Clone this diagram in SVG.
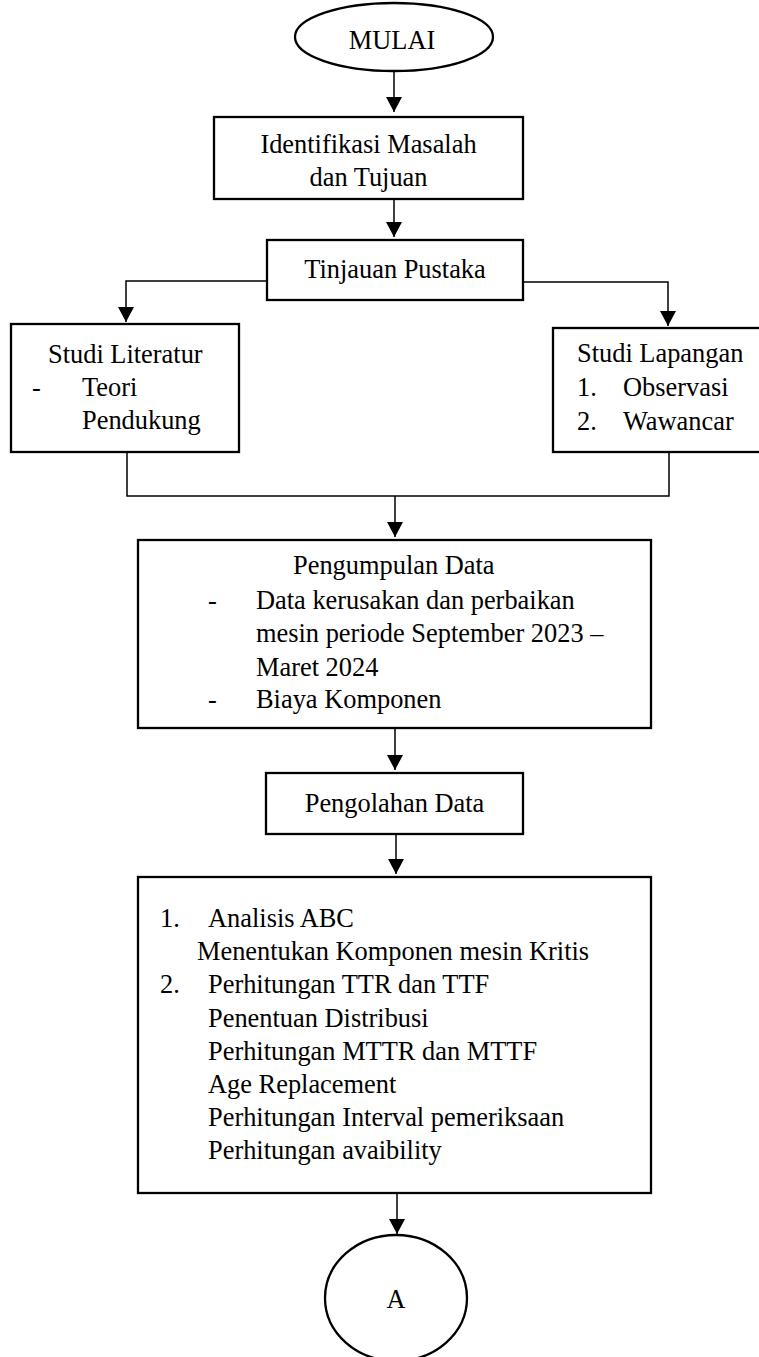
<svg xmlns="http://www.w3.org/2000/svg" width="759" height="1357" viewBox="0 0 759 1357">
<style>
.box{fill:#fff;stroke:#000;stroke-width:2.3}
.t{font-family:"Liberation Serif","Times New Roman",serif;font-size:26.4px;fill:#000}
.c{text-anchor:middle}
.ln{fill:none;stroke:#000;stroke-width:1.5}
</style>
<defs>
<marker id="ah" markerUnits="userSpaceOnUse" markerWidth="15" markerHeight="16" viewBox="0 0 15 16" refX="15" refY="8" orient="auto">
<path d="M0,0 L15,8 L0,16 Z" fill="#000"/>
</marker>
</defs>
<rect width="759" height="1357" fill="#fff"/>
<g id="connectors">
<path class="ln" d="M394,71 V112" marker-end="url(#ah)"/>
<path class="ln" d="M394,199 V237" marker-end="url(#ah)"/>
<path class="ln" d="M267,281 H126 V322" marker-end="url(#ah)"/>
<path class="ln" d="M523,282 H668 V326" marker-end="url(#ah)"/>
<path class="ln" d="M127,452 V496 H669 V452"/>
<path class="ln" d="M395,496 V537" marker-end="url(#ah)"/>
<path class="ln" d="M395,728 V770" marker-end="url(#ah)"/>
<path class="ln" d="M396,834 V874" marker-end="url(#ah)"/>
<path class="ln" d="M397,1193 V1234" marker-end="url(#ah)"/>
</g>
<g id="mulai">
<ellipse cx="394" cy="37" rx="99" ry="34" class="box" stroke-width="2"/>
<text x="392" y="49" class="t c" font-size="23">MULAI</text>
</g>
<g id="identifikasi">
<rect x="214" y="117" width="309" height="82" class="box"/>
<text x="368.5" y="153" class="t c">Identifikasi Masalah</text>
<text x="368.5" y="186" class="t c">dan Tujuan</text>
</g>
<g id="tinjauan">
<rect x="267" y="240" width="256" height="60" class="box"/>
<text x="395" y="278" class="t c">Tinjauan Pustaka</text>
</g>
<g id="studi-literatur">
<rect x="11" y="324" width="228" height="128" class="box"/>
<text x="48" y="363" class="t">Studi Literatur</text>
<text x="32" y="396" class="t">-</text>
<text x="82" y="396" class="t">Teori</text>
<text x="82" y="429" class="t">Pendukung</text>
</g>
<g id="studi-lapangan">
<rect x="553" y="328" width="220" height="124" class="box"/>
<text x="577" y="362" class="t">Studi Lapangan</text>
<text x="577" y="396" class="t">1.</text>
<text x="623" y="396" class="t">Observasi</text>
<text x="577" y="430" class="t">2.</text>
<text x="623" y="430" class="t">Wawancar</text>
</g>
<g id="pengumpulan">
<rect x="138" y="540" width="513" height="188" class="box"/>
<text x="293" y="574" class="t">Pengumpulan Data</text>
<text x="208" y="609" class="t">-</text>
<text x="256" y="609" class="t">Data kerusakan dan perbaikan</text>
<text x="256" y="642" class="t">mesin periode September 2023 –</text>
<text x="256" y="676" class="t">Maret 2024</text>
<text x="208" y="708" class="t">-</text>
<text x="256" y="708" class="t">Biaya Komponen</text>
</g>
<g id="pengolahan">
<rect x="266" y="773" width="257" height="61" class="box"/>
<text x="394.5" y="812" class="t c">Pengolahan Data</text>
</g>
<g id="analisis">
<rect x="138" y="877" width="513" height="316" class="box"/>
<text x="160" y="927" class="t">1.</text>
<text x="208" y="927" class="t">Analisis ABC</text>
<text x="197" y="960" class="t">Menentukan Komponen mesin Kritis</text>
<text x="160" y="993" class="t">2.</text>
<text x="208" y="993" class="t">Perhitungan TTR dan TTF</text>
<text x="208" y="1027" class="t">Penentuan Distribusi</text>
<text x="208" y="1060" class="t">Perhitungan MTTR dan MTTF</text>
<text x="208" y="1093" class="t">Age Replacement</text>
<text x="208" y="1126" class="t">Perhitungan Interval pemeriksaan</text>
<text x="208" y="1159" class="t">Perhitungan avaibility</text>
</g>
<g id="a">
<ellipse cx="396" cy="1298" rx="71" ry="63" class="box" stroke-width="2"/>
<text x="396" y="1308" class="t c" font-size="25">A</text>
</g>
</svg>
